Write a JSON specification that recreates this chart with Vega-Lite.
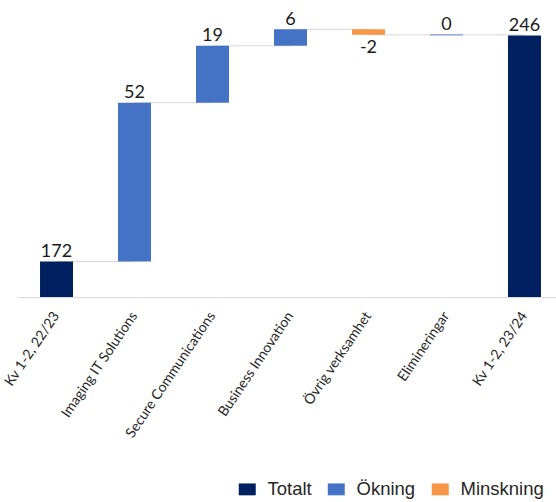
{
  "$schema": "https://vega.github.io/schema/vega-lite/v6.json",
  "width": 539,
  "height": 297,
  "autosize": {"type": "none"},
  "padding": {"left": 17, "top": 0, "right": 0, "bottom": 205},
  "background": "white",
  "config": {"view": {"stroke": null}, "font": "Lato"},
  "data": {
    "values": [
      {"cat": "Kv 1-2, 22/23", "start": 0, "end": 172, "value": 172, "type": "Totalt"},
      {"cat": "Imaging IT Solutions", "start": 172, "end": 224, "value": 52, "type": "Ökning"},
      {"cat": "Secure Communications", "start": 224, "end": 242.6, "value": 19, "type": "Ökning"},
      {"cat": "Business Innovation", "start": 242.6, "end": 248, "value": 6, "type": "Ökning"},
      {"cat": "Övrig verksamhet", "start": 248, "end": 246.2, "value": -2, "type": "Minskning"},
      {"cat": "Elimineringar", "start": 246.2, "end": 246.2, "value": 0, "type": "Ökning"},
      {"cat": "Kv 1-2, 23/24", "start": 0, "end": 246, "value": 246, "type": "Totalt"}
    ]
  },
  "transform": [{"window": [{"op": "lead", "field": "cat", "as": "nextCat"}]}],
  "encoding": {
    "x": {
      "field": "cat",
      "type": "nominal",
      "sort": null,
      "scale": {
        "domain": ["Kv 1-2, 22/23", "Imaging IT Solutions", "Secure Communications", "Business Innovation", "Övrig verksamhet", "Elimineringar", "Kv 1-2, 23/24"],
        "paddingInner": 0.577,
        "paddingOuter": 0.244,
        "align": 0.605
      },
      "axis": {
        "title": null,
        "labelAngle": -56,
        "labelAlign": "right",
        "labelBaseline": "middle",
        "labelFont": "Lato",
        "labelFontSize": 14,
        "labelColor": "#262626",
        "ticks": false,
        "domainColor": "#D9D9D9",
        "domainWidth": 1,
        "labelPadding": 16,
        "labelLimit": 300
      }
    }
  },
  "layer": [
    {
      "transform": [{"filter": "datum.nextCat != null"}],
      "mark": {"type": "rule", "color": "#D9D9D9", "strokeWidth": 1},
      "encoding": {
        "x2": {"field": "nextCat"},
        "y": {"field": "end", "type": "quantitative", "scale": {"domain": [160.4, 257.6], "zero": false, "nice": false}, "axis": null}
      }
    },
    {
      "mark": {"type": "bar", "clip": true},
      "encoding": {
        "y": {"field": "start", "type": "quantitative", "scale": {"domain": [160.4, 257.6], "zero": false, "nice": false}, "axis": null},
        "y2": {"field": "end"},
        "color": {
          "field": "type",
          "type": "nominal",
          "scale": {"domain": ["Totalt", "Ökning", "Minskning"], "range": ["#002060", "#4472C4", "#F79646"]},
          "legend": {
            "title": null,
            "orient": "none",
            "legendX": 221,
            "legendY": 480,
            "direction": "horizontal",
            "symbolType": "M-1,-0.7H1V0.7H-1Z",
            "symbolSize": 289,
            "symbolStrokeWidth": 0,
            "symbolOpacity": 1,
            "labelFont": "Liberation Sans",
            "labelFontSize": 18.5,
            "labelColor": "#262626",
            "labelOffset": 11,
            "columnPadding": 15,
            "padding": 0
          }
        }
      }
    },
    {
      "transform": [{"filter": "datum.value == 0"}],
      "mark": {"type": "bar", "stroke": "#8EA9DB", "strokeWidth": 1, "fill": "#8EA9DB"},
      "encoding": {
        "y": {"field": "start", "type": "quantitative", "scale": {"domain": [160.4, 257.6], "zero": false, "nice": false}, "axis": null},
        "y2": {"field": "end"}
      }
    },
    {
      "transform": [{"filter": "datum.value >= 0"}],
      "mark": {"type": "text", "baseline": "alphabetic", "dy": -4.5, "font": "Lato", "fontSize": 18, "color": "#1a1a1a"},
      "encoding": {
        "y": {"field": "end", "type": "quantitative", "scale": {"domain": [160.4, 257.6], "zero": false, "nice": false}, "axis": null},
        "text": {"field": "value", "type": "nominal"}
      }
    },
    {
      "transform": [{"filter": "datum.value < 0"}],
      "mark": {"type": "text", "baseline": "alphabetic", "dy": 18.5, "font": "Lato", "fontSize": 18, "color": "#1a1a1a"},
      "encoding": {
        "y": {"field": "end", "type": "quantitative", "scale": {"domain": [160.4, 257.6], "zero": false, "nice": false}, "axis": null},
        "text": {"field": "value", "type": "nominal"}
      }
    }
  ]
}
